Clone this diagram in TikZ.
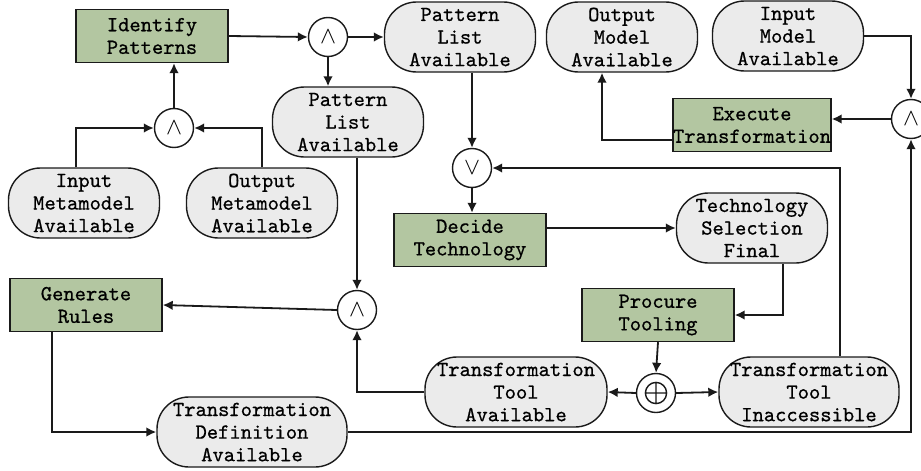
\documentclass[tikz,border=0pt]{standalone}
\usepackage{fontspec}
\setmonofont{Latin Modern Mono}[FakeBold=0.7]
\usetikzlibrary{arrows.meta}
\definecolor{taskgreen}{HTML}{B3C6A1}
\definecolor{stategray}{HTML}{EBEBEB}
\definecolor{inkline}{HTML}{1A1A1A}
\begin{document}
\begin{tikzpicture}[x=0.5pt,y=-0.5pt,
  every node/.style={font=\fontsize{10.75}{11.3}\selectfont\ttfamily, align=center, inner sep=0pt},
  task/.style={draw=inkline, line width=0.7pt, fill=taskgreen, minimum width=76pt, minimum height=26.5pt},
  state/.style={draw=inkline, line width=0.7pt, fill=stategray, rounded corners=16pt, minimum width=75.5pt, minimum height=35pt, text depth=-1pt},
  gate/.style={circle, draw=inkline, line width=0.7pt, fill=white, minimum size=19.5pt, font=\fontsize{13}{13}\selectfont},
  flow/.style={draw=inkline, line width=0.9pt, -{Latex[length=5pt,width=4.8pt]}}
]
\useasboundingbox (0,0) rectangle (921,471);

% activities
\node[task] (ident)  at (152,36)  {Identify\\Patterns};
\node[task] (exec)   at (752,125) {Execute\\Transformation};
\node[task] (decide) at (470,240) {Decide\\Technology};
\node[task] (gen)    at (86,305)  {Generate\\Rules};
\node[task] (proc)   at (658,315) {Procure\\Tooling};

% states
\node[state] (plA)   at (460,37)  {Pattern\\List\\Available};
\node[state] (plB)   at (348,122) {Pattern\\List\\Available};
\node[state] (inMM)  at (84,203)  {Input\\Metamodel\\Available};
\node[state] (outMM) at (262,203) {Output\\Metamodel\\Available};
\node[state] (outM)  at (622,37)  {Output\\Model\\Available};
\node[state] (inM)   at (788,36)  {Input\\Model\\Available};
\node[state] (tsf)   at (752,228) {Technology\\Selection\\Final};
\node[state, minimum width=91pt] (tta)  at (516,392) {Transformation\\Tool\\Available};
\node[state, minimum width=90pt] (tti)  at (809,392) {Transformation\\Tool\\Inaccessible};
\node[state, minimum width=95pt] (tdef) at (252,432) {Transformation\\Definition\\Available};

% gates
\node[gate] (and1) at (328,37)  {$\wedge$};
\node[gate] (and2) at (174,128) {$\wedge$};
\node[gate] (and3) at (911,119) {$\wedge$};
\node[gate] (and4) at (357,310) {$\wedge$};
\node[gate] (or)   at (472,168) {$\vee$};
\node[gate] (xor)  at (656,393) {};
\draw[inkline, line width=0.7pt] (xor.center) circle (5.3pt)
  ([xshift=-5.3pt]xor.center) -- ([xshift=5.3pt]xor.center)
  ([yshift=-5.3pt]xor.center) -- ([yshift=5.3pt]xor.center);

% flows
\draw[flow] (ident.east) -- (and1.west);
\draw[flow] (and1.east) -- (plA.west);
\draw[flow] (and1.south) -- (and1.south |- plB.north);
\draw[flow] (and2.north) -- (and2.north |- ident.south);
\draw[flow] ([xshift=-4pt]inMM.north) |- (and2.west);
\draw[flow] (outMM.north) |- (and2.east);
\draw[flow] (or.north |- plA.south) -- (or.north);
\draw[flow] (or.south) -- (or.south |- decide.north);
\draw[flow] (decide.east |- tsf.west) -- (tsf.west);
\draw[flow] ([xshift=15.5pt]tsf.south) |- (proc.east);
\draw[flow] (proc.south) -- (xor.north);
\draw[flow] (xor.west) -- (tta.east);
\draw[flow] (xor.east) -- (tti.west);
\draw[flow] ([xshift=15.5pt]tti.north) |- (or.east);
\draw[flow] (tta.west) -| (and4.south);
\draw[flow] (and4.north |- plB.south) -- (and4.north);
\draw[flow] (and4.west) -- (gen.east);
\draw[flow] ([xshift=-17pt]gen.south) |- (tdef.west);
\draw[flow] (tdef.east) -| (and3.south);
\draw[flow] (inM.east) -| (and3.north);
\draw[flow] (and3.west) -- (and3.west -| exec.east);
\draw[flow] ([yshift=-7.5pt]exec.west) -| ([xshift=-10pt]outM.south);
\end{tikzpicture}
\end{document}
